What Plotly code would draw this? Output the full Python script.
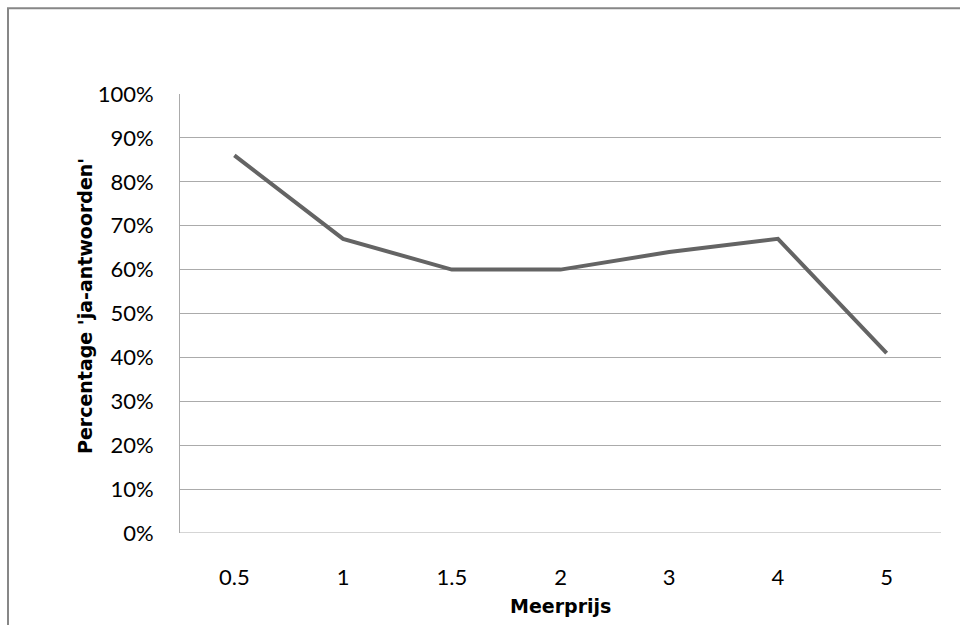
import plotly.graph_objects as go

categories = ["0.5", "1", "1.5", "2", "3", "4", "5"]
values = [0.86, 0.67, 0.60, 0.60, 0.64, 0.67, 0.41]
y_ticks = [0, 0.1, 0.2, 0.3, 0.4, 0.5, 0.6, 0.7, 0.8, 0.9, 1.0]
y_labels = ["0%", "10%", "20%", "30%", "40%", "50%", "60%", "70%", "80%", "90%", "100%"]
x_title = "Meerprijs"
y_title = "Percentage 'ja-antwoorden'"

TICK_FONT = "Lato"
TITLE_FONT = "DejaVu Sans"

fig = go.Figure()
fig.add_trace(go.Scatter(
    x=categories, y=values, mode="lines",
    line=dict(color="#646464", width=4),
    showlegend=False, hoverinfo="skip",
))

# plot-area geometry (pixels)
L, R, T, B = 180, 941, 93.5, 533.5
W, H = 960, 625
pw, ph = R - L, B - T

fig.update_layout(
    width=W, height=H,
    margin=dict(l=L, r=W - R, t=T, b=H - B, pad=0),
    paper_bgcolor="white", plot_bgcolor="white",
    font=dict(family=TICK_FONT, color="#000000"),
    xaxis=dict(
        type="category", range=[-0.5, len(categories) - 0.5],
        showgrid=False, zeroline=False,
        showline=False, ticks="", tickfont=dict(size=22, family=TICK_FONT),
        ticklabelstandoff=29,
    ),
    yaxis=dict(
        range=[0, 1], tickvals=y_ticks, ticktext=y_labels,
        showgrid=True, gridcolor="#ababab", gridwidth=1,
        zeroline=False, showline=True, linecolor="#ababab", linewidth=1,
        ticks="", tickfont=dict(size=22, family=TICK_FONT),
        ticklabelstandoff=21,
    ),
    annotations=[
        dict(text="<b>" + x_title + "</b>", xref="paper", yref="paper",
             x=(560 - L) / pw, y=(B - 607) / ph, showarrow=False,
             xanchor="center", yanchor="middle",
             font=dict(size=19, family=TITLE_FONT, color="#000000")),
        dict(text="<b>" + y_title + "</b>", xref="paper", yref="paper",
             x=(85 - L) / pw, y=(B - 306) / ph, showarrow=False, textangle=-90,
             xanchor="center", yanchor="middle",
             font=dict(size=19, family=TITLE_FONT, color="#000000")),
    ],
)

# chart outer frame (cropped on right/bottom as in the reference)
fig.add_shape(
    type="rect", xref="paper", yref="paper",
    x0=(8 - L) / pw, x1=(970 - L) / pw,
    y0=(B - 640) / ph, y1=(B - 7.5) / ph,
    line=dict(color="#878787", width=2), fillcolor="rgba(0,0,0,0)", layer="below",
)
# bottom axis line at 0%
fig.add_shape(
    type="line", xref="paper", yref="y", x0=0, x1=1, y0=0, y1=0,
    line=dict(color="#ababab", width=1), layer="below",
)

fig.write_html("out.html")
